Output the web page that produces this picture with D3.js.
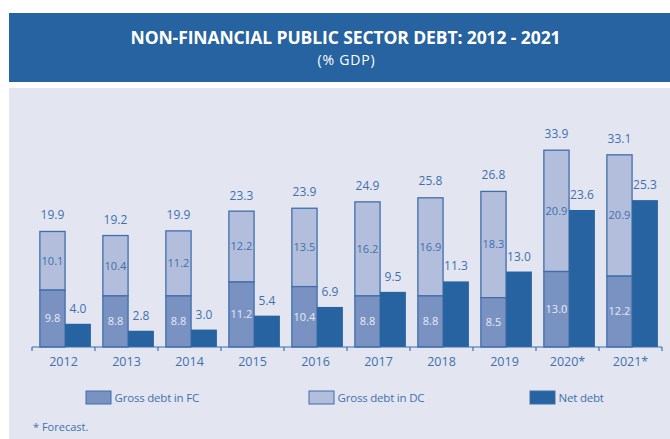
<!DOCTYPE html>
<html>
<head>
<meta charset="utf-8">
<script src="https://cdn.jsdelivr.net/npm/d3@7"></script>
<style>
  html, body { margin: 0; padding: 0; background: #ffffff; }
  svg { display: block; font-family: "Open Sans", "Noto Sans", sans-serif; }
</style>
</head>
<body>
<svg id="chart" width="670" height="439"></svg>
<script>
// Non-financial public sector debt, % of GDP
const years = ["2012", "2013", "2014", "2015", "2016", "2017", "2018", "2019", "2020*", "2021*"];
const grossFC = [9.8, 8.8, 8.8, 11.2, 10.4, 8.8, 8.8, 8.5, 13.0, 12.2];
const grossDC = [10.1, 10.4, 11.2, 12.2, 13.5, 16.2, 16.9, 18.3, 20.9, 20.9];
const grossTotal = [19.9, 19.2, 19.9, 23.3, 23.9, 24.9, 25.8, 26.8, 33.9, 33.1];
const netDebt = [4.0, 2.8, 3.0, 5.4, 6.9, 9.5, 11.3, 13.0, 23.6, 25.3];
const seriesNames = ["Gross debt in FC", "Gross debt in DC", "Net debt"];

const COL = {
  header: "#2763a0",
  panel: "#e3e6f1",
  fc: "#7a92c2",
  dc: "#b3bedc",
  net: "#2763a0",
  edge: "#3f6fab",
  text: "#3f70ad",
  light: "#e6ebf4"
};

const svg = d3.select("#chart");

// header band
svg.append("rect").attr("x", 9).attr("y", 13).attr("width", 661).attr("height", 69)
  .attr("fill", COL.header);
svg.append("text").attr("x", 345.5).attr("y", 44).attr("text-anchor", "middle")
  .attr("fill", "#ffffff").attr("font-size", 17.5).attr("font-weight", 700)
  .attr("letter-spacing", -0.1)
  .text("NON-FINANCIAL PUBLIC SECTOR DEBT: 2012 - 2021");
svg.append("text").attr("x", 346.5).attr("y", 64.5).attr("text-anchor", "middle")
  .attr("fill", "#ffffff").attr("font-size", 14).attr("letter-spacing", 0.8)
  .text("(% GDP)");

// chart panel
svg.append("rect").attr("x", 9).attr("y", 88).attr("width", 661).attr("height", 351)
  .attr("fill", COL.panel);

const x = d3.scaleBand().domain(years).range([32, 662]).padding(0);
const y = d3.scaleLinear().domain([0, 36]).range([347, 138]);
const bw = x.bandwidth();
const gx = d => x(d) + bw * 0.125;       // gross bar left edge
const gw = bw * 0.40;                     // gross bar width
const nx = d => x(d) + bw * 0.525;       // net bar left edge
const nw = bw * 0.41;

const rows = years.map((yr, i) => ({
  yr, fc: grossFC[i], dc: grossDC[i], total: grossTotal[i], net: netDebt[i]
}));

const g = svg.append("g");

// domestic-currency segment (stacked on top of FC)
g.selectAll("rect.dc").data(rows).join("rect").attr("class", "dc")
  .attr("x", d => gx(d.yr)).attr("width", gw)
  .attr("y", d => y(d.fc + d.dc)).attr("height", d => y(d.fc) - y(d.fc + d.dc))
  .attr("fill", COL.dc).attr("stroke", COL.edge).attr("stroke-width", 1.3);

// foreign-currency segment
g.selectAll("rect.fc").data(rows).join("rect").attr("class", "fc")
  .attr("x", d => gx(d.yr)).attr("width", gw)
  .attr("y", d => y(d.fc)).attr("height", d => y(0) - y(d.fc))
  .attr("fill", COL.fc).attr("stroke", COL.edge).attr("stroke-width", 1.3);

// net debt
g.selectAll("rect.net").data(rows).join("rect").attr("class", "net")
  .attr("x", d => nx(d.yr)).attr("width", nw)
  .attr("y", d => y(d.net)).attr("height", d => y(0) - y(d.net))
  .attr("fill", COL.net);

// value labels
const fmt = d3.format(".1f");
g.selectAll("text.tot").data(rows).join("text").attr("class", "tot")
  .attr("x", d => gx(d.yr) + gw / 2).attr("y", d => y(d.total) - 12)
  .attr("text-anchor", "middle").attr("font-size", 12).attr("fill", COL.text)
  .text(d => fmt(d.total));
g.selectAll("text.netv").data(rows).join("text").attr("class", "netv")
  .attr("x", d => nx(d.yr) + nw / 2).attr("y", d => y(d.net) - 11)
  .attr("text-anchor", "middle").attr("font-size", 12).attr("fill", COL.text)
  .text(d => fmt(d.net));
g.selectAll("text.dcv").data(rows).join("text").attr("class", "dcv")
  .attr("x", d => gx(d.yr) + gw / 2).attr("y", d => (y(d.fc) + y(d.fc + d.dc)) / 2)
  .attr("dy", "0.35em").attr("text-anchor", "middle").attr("font-size", 11)
  .attr("fill", COL.text).text(d => fmt(d.dc));
g.selectAll("text.fcv").data(rows).join("text").attr("class", "fcv")
  .attr("x", d => gx(d.yr) + gw / 2).attr("y", d => (y(0) + y(d.fc)) / 2)
  .attr("dy", "0.35em").attr("text-anchor", "middle").attr("font-size", 11)
  .attr("fill", COL.light).text(d => fmt(d.fc));

// category axis
const axis = svg.append("g").attr("transform", `translate(0,${y(0)})`)
  .call(d3.axisBottom(x).tickSize(0).tickPadding(10));
axis.select(".domain").attr("stroke", COL.edge).attr("stroke-width", 1.2)
  .attr("d", `M${x.range()[0]},0H${x.range()[1]}`);
axis.selectAll(".tick text").attr("font-size", 12.5).attr("fill", COL.text)
  .attr("font-family", "'Open Sans', sans-serif");
const bounds = years.map(d => x(d)).concat([x.range()[1]]);
axis.selectAll("line.sep").data(bounds).join("line").attr("class", "sep")
  .attr("x1", d => d).attr("x2", d => d).attr("y1", 0).attr("y2", 4)
  .attr("stroke", COL.edge).attr("stroke-width", 1.2);

// legend
const legendX = [86, 309, 530];
const legendFill = [COL.fc, COL.dc, COL.net];
const lg = svg.append("g");
seriesNames.forEach((name, i) => {
  lg.append("rect").attr("x", legendX[i]).attr("y", 391).attr("width", 25).attr("height", 13)
    .attr("fill", legendFill[i]).attr("stroke", COL.edge).attr("stroke-width", 1);
  lg.append("text").attr("x", legendX[i] + 28.5).attr("y", 402)
    .attr("font-size", 11.5).attr("fill", COL.text).attr("letter-spacing", -0.2).text(name);
});

svg.append("text").attr("x", 33).attr("y", 431).attr("font-size", 11)
  .attr("fill", COL.text).text("* Forecast.");
</script>
</body>
</html>
